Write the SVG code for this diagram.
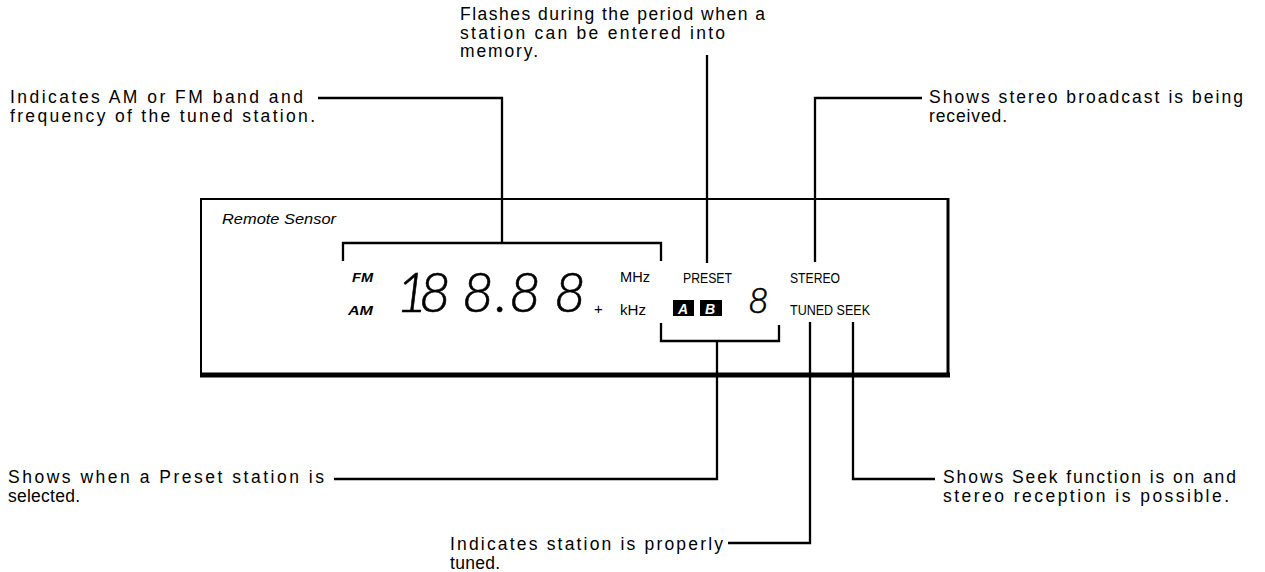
<svg xmlns="http://www.w3.org/2000/svg" width="1265" height="572" viewBox="0 0 1265 572">
<style>
.lbl{font-family:"Liberation Sans",Arial,sans-serif;font-size:17.5px;fill:#000}
.conn{fill:none;stroke:#000;stroke-width:2.3;stroke-linejoin:miter;stroke-linecap:butt}
.ind{font-family:"Liberation Sans",Arial,sans-serif;font-size:15px;fill:#000}
.ital{font-family:"Liberation Sans",Arial,sans-serif;font-style:italic;fill:#000}
.seg{font-family:Lato,"Liberation Sans",sans-serif;font-weight:300;font-style:italic;fill:#000;stroke:#000;stroke-width:0.6}
</style>
<rect width="1265" height="572" fill="#fff"/>

<g id="display">
  <rect x="201" y="199" width="747" height="176" fill="none" stroke="#000" stroke-width="2"/>
  <line x1="200" y1="375" x2="950" y2="375" stroke="#000" stroke-width="5"/>
  <line x1="948" y1="198" x2="948" y2="376" stroke="#000" stroke-width="3"/>
  <text class="ital" x="222" y="224" font-size="14" textLength="114" lengthAdjust="spacingAndGlyphs">Remote Sensor</text>
</g>

<g id="band-indicator">
  <text class="ital" x="352" y="282" font-size="13" font-weight="bold" textLength="21" lengthAdjust="spacingAndGlyphs">FM</text>
  <text class="ital" x="348" y="315" font-size="13" font-weight="bold" textLength="25" lengthAdjust="spacingAndGlyphs">AM</text>
</g>

<g id="frequency">
  <text class="seg" font-size="55" x="396 419 462 495 509 554" y="312">188.88</text>
  <text class="ind" x="594" y="314" font-size="14">+</text>
  <text class="ind" x="620" y="282" textLength="30" lengthAdjust="spacingAndGlyphs">MHz</text>
  <text class="ind" x="620" y="315" textLength="26" lengthAdjust="spacingAndGlyphs">kHz</text>
</g>

<g id="preset">
  <text class="ind" x="683" y="283" textLength="49" lengthAdjust="spacingAndGlyphs">PRESET</text>
  <rect x="673" y="300" width="21" height="16" fill="#000"/>
  <rect x="700" y="300" width="22" height="16" fill="#000"/>
  <text class="ital" x="678" y="314" font-size="14" font-weight="bold" style="fill:#fff">A</text>
  <text class="ital" x="705" y="314" font-size="14" font-weight="bold" style="fill:#fff">B</text>
  <text class="seg" font-size="36" x="748" y="313">8</text>
</g>

<g id="stereo">
  <text class="ind" x="790" y="283" textLength="50" lengthAdjust="spacingAndGlyphs">STEREO</text>
</g>

<g id="tuned-seek">
  <text class="ind" x="790" y="315" textLength="80" lengthAdjust="spacingAndGlyphs">TUNED SEEK</text>
</g>

<g id="label-band">
  <text class="lbl" x="10" y="103" textLength="293" lengthAdjust="spacing">Indicates AM or FM band and</text>
  <text class="lbl" x="10" y="121.5" textLength="305" lengthAdjust="spacing">frequency of the tuned station.</text>
</g>
<g id="label-flash">
  <text class="lbl" x="460" y="20" textLength="305" lengthAdjust="spacing">Flashes during the period when a</text>
  <text class="lbl" x="460" y="38.5" textLength="265" lengthAdjust="spacing">station can be entered into</text>
  <text class="lbl" x="460" y="57" textLength="78" lengthAdjust="spacing">memory.</text>
</g>
<g id="label-stereo">
  <text class="lbl" x="929" y="103" textLength="314" lengthAdjust="spacing">Shows stereo broadcast is being</text>
  <text class="lbl" x="929" y="121.5" textLength="78" lengthAdjust="spacing">received.</text>
</g>
<g id="label-preset">
  <text class="lbl" x="8" y="483" textLength="316" lengthAdjust="spacing">Shows when a Preset station is</text>
  <text class="lbl" x="8" y="501.5" textLength="72" lengthAdjust="spacing">selected.</text>
</g>
<g id="label-seek">
  <text class="lbl" x="943" y="483" textLength="293" lengthAdjust="spacing">Shows Seek function is on and</text>
  <text class="lbl" x="943" y="501.5" textLength="286" lengthAdjust="spacing">stereo reception is possible.</text>
</g>
<g id="label-tuned">
  <text class="lbl" x="450" y="550" textLength="273" lengthAdjust="spacing">Indicates station is properly</text>
  <text class="lbl" x="450" y="568.5" textLength="50" lengthAdjust="spacing">tuned.</text>
</g>

<g id="connectors">
  <polyline class="conn" points="318,98 502,98 502,243"/>
  <polyline class="conn" points="343,261 343,243 661,243 661,261"/>
  <line class="conn" x1="707" y1="55" x2="707" y2="263"/>
  <polyline class="conn" points="922,98 815,98 815,262"/>
  <polyline class="conn" points="661,323 661,341 779,341 779,325"/>
  <polyline class="conn" points="717,341 717,479 334,479"/>
  <polyline class="conn" points="810,322 810,543 728,543"/>
  <polyline class="conn" points="853,322 853,479 935,479"/>
</g>
</svg>
